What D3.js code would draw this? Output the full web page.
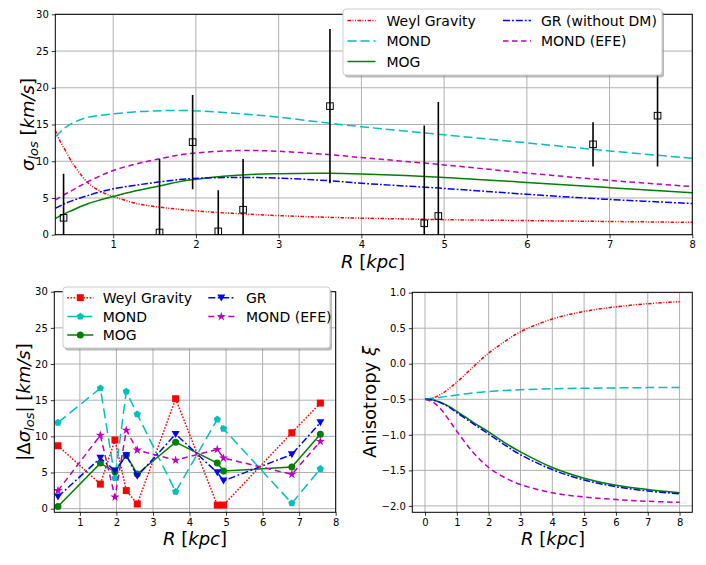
<!DOCTYPE html>
<html><head><meta charset="utf-8">
<script src="https://cdn.jsdelivr.net/npm/d3@7"></script>
<style>body{margin:0;background:#fff}svg{display:block}text{font-family:"DejaVu Sans",sans-serif}</style>
</head><body>
<script>
// ---------- Top panel data ----------
const obsR   = [0.40, 1.56, 1.96, 2.27, 2.57, 3.62, 4.76, 4.93, 6.80, 7.58];
const obsSig = [2.3, 0.3, 12.6, 0.45, 3.4, 17.5, 1.55, 2.55, 12.3, 16.2];
const obsErr = [6.0, 10.0, 6.4, 5.6, 6.9, 10.5, 13.3, 15.5, 3.0, 6.9];

const weylR = [0.3,0.35,0.42,0.5,0.54,0.6,0.7,0.8,0.9,1.0,1.3,1.6,1.9,2.3,2.7,3.0,3.5,4.0,4.5,5.0,6.0,7.0,8.0];
const weylS = [14.2,12.9,11.5,9.9,9.25,8.3,7.0,6.2,5.6,5.2,4.2,3.7,3.35,3.0,2.75,2.6,2.4,2.25,2.15,2.05,1.92,1.8,1.68];
const modR  = [0.3,0.4,0.5,0.6,0.7,0.85,1.0,1.25,1.5,1.9,2.5,3.0,3.6,4.0,5.0,6.0,7.0,8.0];
const mondS = [13.3,14.4,15.15,15.65,16.0,16.25,16.45,16.7,16.85,16.9,16.5,16.0,15.2,14.7,13.6,12.5,11.4,10.4];
const efeS  = [4.7,5.4,6.0,6.65,7.25,8.05,8.75,9.55,10.2,11.0,11.45,11.35,10.9,10.5,9.5,8.4,7.4,6.55];
const grS   = [3.6,4.15,4.6,5.0,5.35,5.85,6.25,6.7,7.1,7.6,7.8,7.7,7.35,7.0,6.3,5.5,4.8,4.25];
const mogS  = [2.2,2.8,3.3,3.8,4.25,4.75,5.2,5.9,6.5,7.4,8.1,8.3,8.35,8.25,7.8,7.1,6.4,5.7];

const topXTicks = [1,2,3,4,5,6,7,8];
const topYTicks = [0,5,10,15,20,25,30];

// ---------- Bottom-left data: |Δσ_los| ----------
const dWeyl = [8.7, 3.4, 9.5, 2.5, 0.65, 15.2, 0.5, 0.5, 10.5, 14.6];
const dMond = [11.9, 16.65, 4.25, 16.2, 13.05, 2.35, 12.35, 11.05, 0.75, 5.5];
const dMog  = [0.3, 6.3, 5.1, 7.4, 4.8, 9.2, 6.3, 5.2, 5.75, 10.3];
const dGR   = [1.65, 7.0, 5.25, 7.35, 4.5, 10.3, 5.0, 3.85, 7.5, 11.9];
const dEfe  = [2.5, 10.15, 1.6, 10.85, 8.1, 6.7, 8.2, 7.0, 4.75, 9.3];
const blXTicks = [1,2,3,4,5,6,7,8];
const blYTicks = [0,5,10,15,20,25,30];

// ---------- Bottom-right data: anisotropy ----------
const anR    = [0,0.25,0.5,0.75,1.0,1.5,2.0,2.5,3.0,4.0,5.0,6.0,7.0,8.0];
const anWeyl = [-0.5,-0.48,-0.43,-0.35,-0.26,-0.05,0.15,0.31,0.45,0.63,0.735,0.80,0.845,0.873];
const anMond = [-0.5,-0.485,-0.47,-0.455,-0.44,-0.41,-0.39,-0.375,-0.365,-0.352,-0.345,-0.34,-0.336,-0.334];
const anMog  = [-0.5,-0.51,-0.545,-0.6,-0.67,-0.82,-0.96,-1.11,-1.24,-1.46,-1.61,-1.71,-1.77,-1.815];
const anGR   = [-0.5,-0.51,-0.55,-0.61,-0.69,-0.84,-0.99,-1.14,-1.28,-1.49,-1.635,-1.73,-1.79,-1.83];
const anEfe  = [-0.5,-0.54,-0.64,-0.79,-0.95,-1.24,-1.46,-1.6,-1.70,-1.815,-1.875,-1.91,-1.935,-1.95];
const brXTicks = [0,1,2,3,4,5,6,7,8];
const brYTicks = [-2.0,-1.5,-1.0,-0.5,0.0,0.5,1.0];

const W = 706, H = 565;
const svg = d3.select("body").append("svg").attr("width", W).attr("height", H);

const C = {weyl:"#ff0000", mond:"#00bfbf", mog:"#008000", gr:"#0000ff", efe:"#bf00bf"};
const DASH = {weyl:"3.5,1.5,1,1.5,1,1.5", mond:"9,4", mog:null, gr:"7,2,1.8,2", efe:"5.5,3.5"};
const DASH_BL = {weyl:"1.6,1.6", mond:"10,5", mog:null, gr:"7,2.5,1.8,2.5", efe:"6,4"};

function panel(o){
  const x = d3.scaleLinear().domain(o.xd).range([o.l, o.r]);
  const y = d3.scaleLinear().domain(o.yd).range([o.b, o.t]);
  const g = svg.append("g");
  g.append("g").selectAll("line").data(o.xt).join("line")
    .attr("x1", d=>x(d)).attr("x2", d=>x(d)).attr("y1", o.t).attr("y2", o.b)
    .attr("stroke", "#b0b0b0").attr("stroke-width", 1);
  g.append("g").selectAll("line").data(o.yt).join("line")
    .attr("y1", d=>y(d)).attr("y2", d=>y(d)).attr("x1", o.l).attr("x2", o.r)
    .attr("stroke", "#b0b0b0").attr("stroke-width", 1);
  const clipId = "clip" + Math.round(o.l) + "_" + Math.round(o.t);
  svg.append("defs").append("clipPath").attr("id", clipId).append("rect")
    .attr("x", o.l).attr("y", o.t).attr("width", o.r-o.l).attr("height", o.b-o.t);
  const plot = svg.append("g").attr("clip-path", `url(#${clipId})`);
  const axes = svg.append("g");
  axes.append("g").attr("transform", `translate(0,${o.b})`)
    .call(d3.axisBottom(x).tickValues(o.xt).tickSize(3.5).tickPadding(3).tickFormat(o.xf || d3.format("d")))
    .call(s=>{s.select(".domain").remove(); s.selectAll("text").attr("font-size",10).attr("font-family","DejaVu Sans").attr("fill","#000"); s.selectAll("line").attr("stroke","#000").attr("stroke-width",0.8);});
  axes.append("g").attr("transform", `translate(${o.l},0)`)
    .call(d3.axisLeft(y).tickValues(o.yt).tickSize(3.5).tickPadding(3).tickFormat(o.yf || d3.format("d")))
    .call(s=>{s.select(".domain").remove(); s.selectAll("text").attr("font-size",10).attr("font-family","DejaVu Sans").attr("fill","#000"); s.selectAll("line").attr("stroke","#000").attr("stroke-width",0.8);});
  axes.append("rect").attr("x", o.l).attr("y", o.t).attr("width", o.r-o.l).attr("height", o.b-o.t)
    .attr("fill","none").attr("stroke","#000").attr("stroke-width",1);
  return {x, y, plot, axes};
}

function curve(p, xs, ys, color, dash, w){
  const line = d3.line().x((d,i)=>p.x(xs[i])).y(d=>p.y(d)).curve(d3.curveCatmullRom.alpha(0.5));
  p.plot.append("path").datum(ys).attr("d", line).attr("fill","none")
    .attr("stroke", color).attr("stroke-width", w||1.5).attr("stroke-dasharray", dash);
}

function xLabel(cx, cy){
  svg.append("text").attr("x", cx).attr("y", cy).attr("text-anchor","middle").attr("font-size",18)
    .html('<tspan font-style="italic">R</tspan> [<tspan font-style="italic">kpc</tspan>]');
}

function marker(g, type, cx, cy, color){
  if (type==="square") g.append("rect").attr("x",cx-3.5).attr("y",cy-3.5).attr("width",7).attr("height",7).attr("fill",color);
  else if (type==="circle") g.append("circle").attr("cx",cx).attr("cy",cy).attr("r",3.5).attr("fill",color);
  else if (type==="pentagon"){
    const pts = d3.range(5).map(k=>{const a=-Math.PI/2+k*2*Math.PI/5; return [cx+3.8*Math.cos(a), cy+3.8*Math.sin(a)];});
    g.append("path").attr("d", "M"+pts.join("L")+"Z").attr("fill", color);
  } else if (type==="tri"){
    g.append("path").attr("d", `M${cx-4},${cy-3.3}L${cx+4},${cy-3.3}L${cx},${cy+3.7}Z`).attr("fill", color);
  } else {
    g.append("path").attr("d", d3.symbol(d3.symbolStar, 26)()).attr("transform",`translate(${cx},${cy})`).attr("fill",color);
  }
}

function legend(box, items){
  const g = svg.append("g");
  g.append("rect").attr("x", box.x+2).attr("y", box.y+2.5).attr("width", box.w).attr("height", box.h)
    .attr("rx",3).attr("fill","#808080").attr("opacity",0.55);
  g.append("rect").attr("x", box.x).attr("y", box.y).attr("width", box.w).attr("height", box.h)
    .attr("rx",3).attr("fill","#fff").attr("stroke","#cccccc").attr("stroke-width",1);
  items.forEach(it=>{
    g.append("line").attr("x1", it.hx).attr("x2", it.hx+box.hl).attr("y1", it.y).attr("y2", it.y)
      .attr("stroke", it.c).attr("stroke-width",1.5).attr("stroke-dasharray", it.dash);
    if (it.m) marker(g, it.m, it.hx+box.hl/2, it.y, it.c);
    g.append("text").attr("x", it.tx).attr("y", it.y).attr("dy","0.36em").attr("font-size",14).text(it.label);
  });
}

// ================= TOP PANEL =================
const pT = panel({l:55.3, r:692.3, t:14.3, b:234.7, xd:[0.3,8], yd:[0,30], xt:topXTicks, yt:topYTicks});
curve(pT, weylR, weylS, C.weyl, DASH.weyl);
curve(pT, modR, mondS, C.mond, DASH.mond);
curve(pT, modR, mogS, C.mog, DASH.mog);
curve(pT, modR, grS, C.gr, DASH.gr);
curve(pT, modR, efeS, C.efe, DASH.efe);
pT.plot.append("g").selectAll("line").data(obsR).join("line")
  .attr("x1", d=>pT.x(d)).attr("x2", d=>pT.x(d))
  .attr("y1", (d,i)=>pT.y(obsSig[i]-obsErr[i])).attr("y2", (d,i)=>pT.y(obsSig[i]+obsErr[i]))
  .attr("stroke","#000").attr("stroke-width",1.6);
pT.plot.append("g").selectAll("rect").data(obsR).join("rect")
  .attr("x", d=>pT.x(d)-3.3).attr("y", (d,i)=>pT.y(obsSig[i])-3.3).attr("width",6.6).attr("height",6.6)
  .attr("fill","none").attr("stroke","#000").attr("stroke-width",1);
xLabel(373, 268);
svg.append("text").attr("transform","translate(34,124.5) rotate(-90)").attr("text-anchor","middle").attr("font-size",18)
  .html('<tspan font-style="italic">σ</tspan><tspan font-style="italic" font-size="13" dy="4">los</tspan><tspan dy="-4"> [</tspan><tspan font-style="italic">km/s</tspan>]');

legend({x:343, y:9, w:319, h:66, hl:28}, [
  {label:"Weyl Gravity", c:C.weyl, dash:DASH.weyl, hx:347.5, tx:386.5, y:20.5},
  {label:"MOND", c:C.mond, dash:DASH.mond, hx:347.5, tx:386.5, y:41},
  {label:"MOG", c:C.mog, dash:DASH.mog, hx:347.5, tx:386.5, y:61.5},
  {label:"GR (without DM)", c:C.gr, dash:DASH.gr, hx:503, tx:541, y:20.5},
  {label:"MOND (EFE)", c:C.efe, dash:DASH.efe, hx:503, tx:541, y:41}
]);

// ================= BOTTOM LEFT =================
const pBL = panel({l:54.3, r:335.7, t:291.7, b:512.3, xd:[0.3,8], yd:[-0.5,30], xt:blXTicks, yt:blYTicks});
const blSeries = [
  {v:dWeyl, c:C.weyl, dash:DASH_BL.weyl, m:"square"},
  {v:dMond, c:C.mond, dash:DASH_BL.mond, m:"pentagon"},
  {v:dMog,  c:C.mog,  dash:DASH_BL.mog,  m:"circle"},
  {v:dGR,   c:C.gr,   dash:DASH_BL.gr,   m:"tri"},
  {v:dEfe,  c:C.efe,  dash:DASH_BL.efe,  m:"star"}
];
blSeries.forEach(s=>{
  const line = d3.line().x((d,i)=>pBL.x(obsR[i])).y(d=>pBL.y(d));
  pBL.plot.append("path").datum(s.v).attr("d", line).attr("fill","none")
    .attr("stroke", s.c).attr("stroke-width",1.5).attr("stroke-dasharray", s.dash);
  s.v.forEach((d,i)=>marker(pBL.plot, s.m, pBL.x(obsR[i]), pBL.y(d), s.c));
});
xLabel(195, 545);
svg.append("text").attr("transform","translate(30,402) rotate(-90)").attr("text-anchor","middle").attr("font-size",18)
  .html('|Δ<tspan font-style="italic">σ</tspan><tspan font-style="italic" font-size="13" dy="4">los</tspan><tspan dy="-4">| [</tspan><tspan font-style="italic">km/s</tspan>]');

legend({x:63, y:287, w:267, h:61, hl:26}, [
  {label:"Weyl Gravity", c:C.weyl, dash:DASH_BL.weyl, m:"square", hx:67.3, tx:102.7, y:297.7},
  {label:"MOND", c:C.mond, dash:DASH_BL.mond, m:"pentagon", hx:67.3, tx:102.7, y:316.5},
  {label:"MOG", c:C.mog, dash:DASH_BL.mog, m:"circle", hx:67.3, tx:102.7, y:335},
  {label:"GR", c:C.gr, dash:DASH_BL.gr, m:"tri", hx:208.3, tx:246, y:297.7},
  {label:"MOND (EFE)", c:C.efe, dash:DASH_BL.efe, m:"star", hx:208.3, tx:246, y:316.5}
]);

// ================= BOTTOM RIGHT =================
const pBR = panel({l:412.3, r:692.3, t:292.3, b:512.3, xd:[-0.4,8.4], yd:[-2.09,1.005], xt:brXTicks, yt:brYTicks,
  yf: d=> d3.format(".1f")(d).replace("-","−")});
curve(pBR, anR, anWeyl, C.weyl, DASH.weyl);
curve(pBR, anR, anMond, C.mond, DASH.mond);
curve(pBR, anR, anMog, C.mog, DASH.mog);
curve(pBR, anR, anGR, C.gr, DASH.gr);
curve(pBR, anR, anEfe, C.efe, DASH.efe);
xLabel(553, 545);
svg.append("text").attr("transform","translate(376,402) rotate(-90)").attr("text-anchor","middle").attr("font-size",18)
  .html('Anisotropy <tspan font-style="italic">ξ</tspan>');
</script>
</body></html>
